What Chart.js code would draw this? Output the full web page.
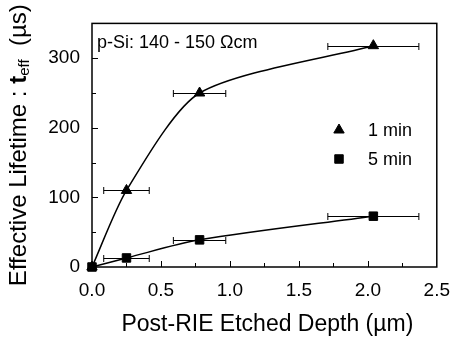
<!DOCTYPE html>
<html>
<head>
<meta charset="utf-8">
<script src="https://cdn.jsdelivr.net/npm/chart.js@4.4.0/dist/chart.umd.min.js"></script>
<style>
  html, body { margin: 0; padding: 0; background: #fff; }
  #wrap { width: 462px; height: 340px; }
</style>
</head>
<body>
<div id="wrap"><canvas id="myChart" width="462" height="340"></canvas></div>
<script>
// etched depth (um), lifetime (us), x error (um)
var depth1 = [0, 0.25, 0.78, 2.04];
var life1 = [0, 110, 250, 318];
var err1 = [0, 0.165, 0.19, 0.33];
var depth5 = [0, 0.25, 0.78, 2.04];
var life5 = [0, 13, 39, 73];
var err5 = [0, 0.165, 0.19, 0.33];
var xTicks = ['0.0', '0.5', '1.0', '1.5', '2.0', '2.5'];
var yTicks = ['0', '100', '200', '300'];

function pts(xs, ys) {
    return xs.map(function (x, i) { return { x: x, y: ys[i] }; });
}

var FONT = "'Liberation Sans', Arial, sans-serif";

/* horizontal error bars */
var errBars = {
    id: 'errBars',
    afterDatasetsDraw(chart) {
        var ctx = chart.ctx, xs = chart.scales.x, ys = chart.scales.y;
        ctx.save();
        ctx.strokeStyle = '#000';
        ctx.lineWidth = 1;
        chart.data.datasets.forEach(function (ds) {
            if (!ds.xErr) return;
            ds.data.forEach(function (p, i) {
                var e = ds.xErr[i];
                if (!e) return;
                var y = Math.round(ys.getPixelForValue(p.y)) + 0.5;
                var x1 = xs.getPixelForValue(p.x - e), x2 = xs.getPixelForValue(p.x + e);
                ctx.beginPath();
                ctx.moveTo(x1, y); ctx.lineTo(x2, y);
                ctx.moveTo(x1, y - 3.5); ctx.lineTo(x1, y + 3.5);
                ctx.moveTo(x2, y - 3.5); ctx.lineTo(x2, y + 3.5);
                ctx.stroke();
            });
        });
        ctx.restore();
    }
};

/* frame, inward ticks, titles, note, legend */
var frame = {
    id: 'frame',
    afterDraw(chart) {
        var ctx = chart.ctx, a = chart.chartArea, xs = chart.scales.x, ys = chart.scales.y;
        ctx.save();
        ctx.strokeStyle = '#000';
        ctx.lineWidth = 1.5;
        ctx.strokeRect(a.left, a.top, a.right - a.left, a.bottom - a.top);
        ctx.lineWidth = 1;
        ctx.beginPath();
        xs.ticks.forEach(function (t) {
            if (t.value <= xs.min || t.value >= xs.max) return;
            var x = Math.round(xs.getPixelForValue(t.value)) + 0.5;
            var len = t.label ? 6 : 4;
            ctx.moveTo(x, a.bottom); ctx.lineTo(x, a.bottom - len);
        });
        ys.ticks.forEach(function (t) {
            if (t.value <= ys.min || t.value >= ys.max) return;
            var y = Math.round(ys.getPixelForValue(t.value)) + 0.5;
            var len = t.label ? 6 : 4;
            ctx.moveTo(a.left, y); ctx.lineTo(a.left + len, y);
        });
        ctx.stroke();

        ctx.fillStyle = '#000';
        // x title
        ctx.font = '23px ' + FONT;
        ctx.textAlign = 'center';
        ctx.textBaseline = 'middle';
        ctx.fillText('Post-RIE Etched Depth (\u00b5m)', (a.left + a.right) / 2 + 3, 325);

        // y title with subscript
        ctx.translate(19, (a.top + a.bottom) / 2);
        ctx.rotate(-Math.PI / 2);
        ctx.textAlign = 'left';
        ctx.textBaseline = 'middle';
        var parts = [
            { t: 'Effective Lifetime : ', f: '24px ' + FONT, dy: 0 },
            { t: 't', f: 'bold 24px ' + FONT, dy: 0 },
            { t: 'eff', f: '15px ' + FONT, dy: 6 },
            { t: '  (\u00b5s)', f: '24px ' + FONT, dy: 0 }
        ];
        var total = 0;
        parts.forEach(function (p) { ctx.font = p.f; p.w = ctx.measureText(p.t).width; total += p.w; });
        var cx = -total / 2;
        parts.forEach(function (p) { ctx.font = p.f; ctx.fillText(p.t, cx, p.dy); cx += p.w; });
        ctx.setTransform(1, 0, 0, 1, 0, 0);

        // note
        ctx.font = '18px ' + FONT;
        ctx.textAlign = 'left';
        ctx.fillText('p-Si: 140 - 150 \u03a9cm', 97, 43);

        // legend
        var legend = [
            { style: 'triangle', label: '1 min', y: 130 },
            { style: 'rect', label: '5 min', y: 159 }
        ];
        legend.forEach(function (l) {
            Chart.helpers.drawPoint(ctx, { pointStyle: l.style, radius: 6, rotation: 0, borderWidth: 1 }, 339, l.y);
            ctx.font = '18px ' + FONT;
            ctx.fillText(l.label, 368, l.y + 1);
        });
        ctx.restore();
    }
};

var ctx = document.getElementById('myChart').getContext('2d');
var myChart = new Chart(ctx, {
    type: 'scatter',
    data: {
        datasets: [{
            label: '1 min',
            data: pts(depth1, life1),
            xErr: err1,
            showLine: true,
            tension: 0.25,
            borderColor: '#000',
            borderWidth: 1.5,
            backgroundColor: '#000',
            pointStyle: 'triangle',
            pointRadius: 6,
            pointBorderWidth: 1
        }, {
            label: '5 min',
            data: pts(depth5, life5),
            xErr: err5,
            showLine: true,
            tension: 0.3,
            borderColor: '#000',
            borderWidth: 1.5,
            backgroundColor: '#000',
            pointStyle: 'rect',
            pointRadius: 6,
            pointBorderWidth: 1
        }]
    },
    options: {
        responsive: false,
        animation: false,
        clip: false,
        layout: { padding: { left: 0, top: 15, right: 14, bottom: 0 } },
        plugins: {
            legend: { display: false },
            tooltip: { enabled: false }
        },
        scales: {
            x: {
                type: 'linear',
                min: 0, max: 2.5,
                grid: { display: false, drawTicks: false },
                border: { display: false },
                afterFit: function (s) { s.height = 73; },
                ticks: {
                    stepSize: 0.25,
                    padding: 12,
                    color: '#000',
                    font: { size: 19, family: FONT },
                    maxRotation: 0,
                    autoSkip: false,
                    callback: function (v) {
                        var k = Math.round(v * 2);
                        return Math.abs(v * 2 - k) < 1e-6 ? xTicks[k] : '';
                    }
                }
            },
            y: {
                min: 0, max: 350,
                grid: { display: false, drawTicks: false },
                border: { display: false },
                afterFit: function (s) { s.width = 92; },
                ticks: {
                    stepSize: 50,
                    padding: 12,
                    color: '#000',
                    font: { size: 19, family: FONT },
                    autoSkip: false,
                    callback: function (v) {
                        return v % 100 === 0 ? yTicks[v / 100] : '';
                    }
                }
            }
        }
    },
    plugins: [errBars, frame]
});
</script>
</body>
</html>
